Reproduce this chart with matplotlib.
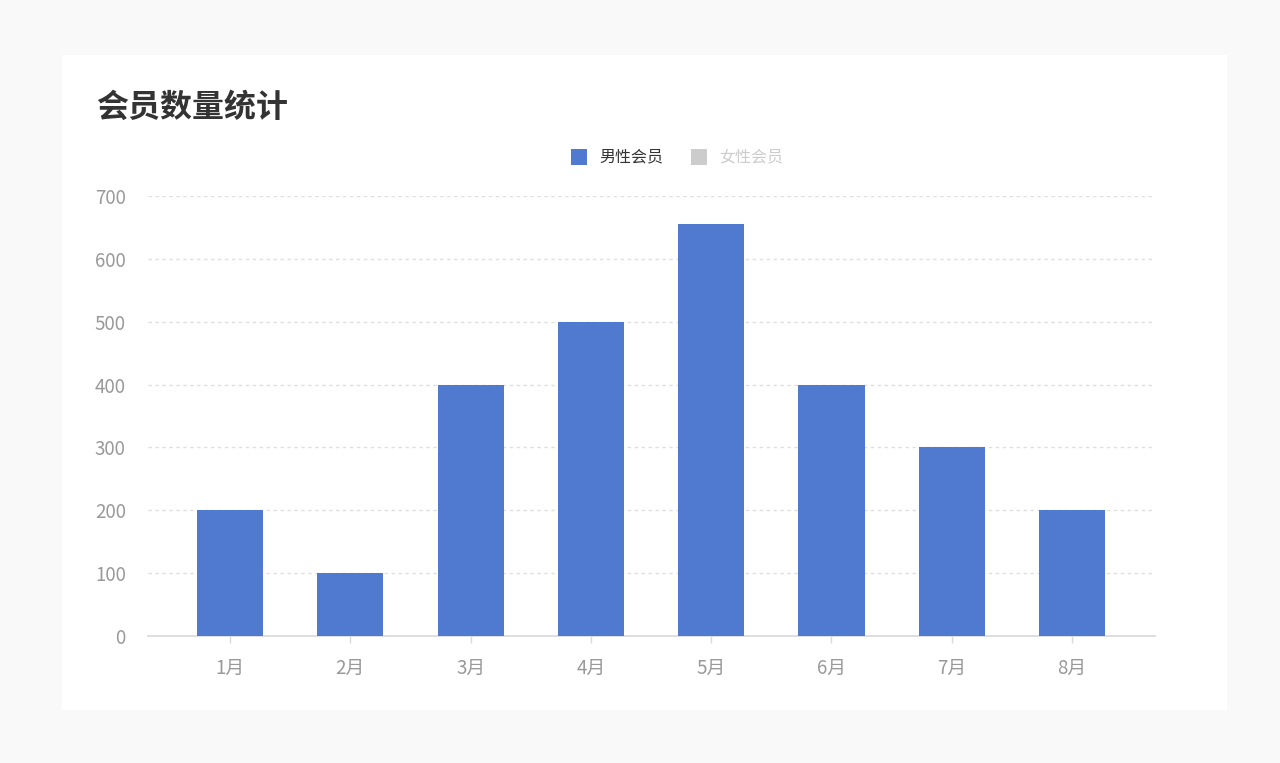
import matplotlib.pyplot as plt
from matplotlib.patches import Rectangle

plt.rcParams['font.family'] = ['Noto Sans CJK SC', 'DejaVu Sans']

months = ['1月', '2月', '3月', '4月', '5月', '6月', '7月', '8月']
male = [200, 100, 400, 500, 655, 400, 300, 200]
series = ['男性会员', '女性会员']
yticks = [0, 100, 200, 300, 400, 500, 600, 700]

W, H = 1280, 763
fig = plt.figure(figsize=(W / 100, H / 100), dpi=100, facecolor='#f9f9f9')

# white card behind the chart
fig.patches.append(Rectangle((62 / W, 1 - 710 / H), (1227 - 62) / W, (710 - 55) / H,
                             transform=fig.transFigure, facecolor='white',
                             edgecolor='none', zorder=-5))

fig.text(96 / W, 1 - 108 / H, '会员数量统计', fontsize=23, color='#333333',
         fontweight='bold', va='center', ha='left')

# legend, second series switched off
leg = [(571, '#4f7acf', '#333333'), (691, '#cccccc', '#cccccc')]
for (x0, fc, tc), name in zip(leg, series):
    fig.patches.append(Rectangle((x0 / W, 1 - 165 / H), 16 / W, 16 / H,
                                 transform=fig.transFigure, facecolor=fc,
                                 edgecolor='none'))
    fig.text((x0 + 28) / W, 1 - 157 / H, name, fontsize=11.5, color=tc,
             va='center', ha='left')

ax = fig.add_axes([148 / W, 1 - 636 / H, (1155 - 148) / W, (636 - 196) / H])
ax.set_zorder(5)
ax.set_facecolor('none')
x = list(range(len(months)))
ax.bar(x, male, width=0.55, color='#4f7acf', zorder=3)

ax.set_xlim(-0.682, 7.69)
ax.set_ylim(0, 700)
ax.set_yticks(yticks)
ax.set_xticks(x)
ax.set_xticklabels(months)
for v in yticks[1:]:
    ax.axhline(v, color='#e0e0e0', lw=1, ls=(0, (2.5, 2.5)), zorder=1)

for s in ['top', 'right', 'left']:
    ax.spines[s].set_visible(False)
ax.spines['bottom'].set_color('#d5d8dc')
ax.spines['bottom'].set_linewidth(1.2)
ax.tick_params(axis='y', length=0, pad=16, labelsize=13.5, labelcolor='#999999')
ax.tick_params(axis='x', length=5, width=1, color='#d5d8dc', pad=11,
               labelsize=13.5, labelcolor='#999999')
for lab in ax.get_xticklabels() + ax.get_yticklabels():
    lab.set_fontweight('light')

fig.savefig('out.png', dpi=100, facecolor=fig.get_facecolor())
